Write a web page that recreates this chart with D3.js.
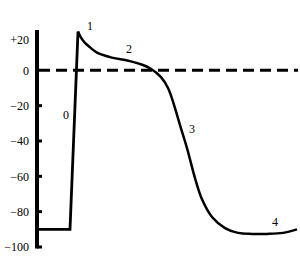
<!DOCTYPE html>
<html><head><meta charset="utf-8">
<script src="https://cdn.jsdelivr.net/npm/d3@7"></script>
<style>body{margin:0;background:#fff}svg{display:block}</style>
</head><body>
<script>
// y ticks
const yTicks = [20, 0, -20, -40, -60, -80, -100];
const yTickLabels = ["+20", "0", "\u221220", "\u221240", "\u221260", "\u221280", "\u2212100"];
// resting + upstroke (phase 4 -> 0)
const upT = [0, 33, 41];
const upV = [-90, -90, 22];
// repolarization (phase 1,2,3,4)
const repT = [41, 44, 48, 53, 60, 73, 93, 106, 113, 124, 131, 137, 143, 150, 158, 165, 175, 188, 201, 215, 230, 246, 260];
const repV = [22, 18.5, 15.5, 13, 10, 7.5, 5.2, 3, 1.2, -3.8, -10, -19.5, -31, -44, -61, -73, -83, -89.3, -92, -92.6, -92.6, -92, -90];
// phase labels
const phaseNames = ["0", "1", "2", "3", "4"];
const phaseT = [29, 53, 92, 155, 238];
const phaseV = [-25, 25, 12, -33, -86];

const W = 300, H = 275;
const svg = d3.select("body").append("svg").attr("width", W).attr("height", H);
const x = d3.scaleLinear().domain([0, 260]).range([37, 297]);
const y = d3.scaleLinear().domain([-100, 20]).range([247, 35]);

// axis line
svg.append("line").attr("x1", 37).attr("x2", 37)
  .attr("y1", 30).attr("y2", y(-100) + 1.5)
  .attr("stroke", "#000").attr("stroke-width", 4);

// ticks
const tickVals = yTicks.filter(v => v < 0);
svg.selectAll(".tk").data(tickVals).enter().append("line")
  .attr("x1", 37).attr("x2", 42)
  .attr("y1", d => y(d)).attr("y2", d => y(d))
  .attr("stroke", "#000").attr("stroke-width", 3);

// tick labels
svg.selectAll(".tl").data(yTicks).enter().append("text")
  .attr("x", 29).attr("y", d => y(d) + (d === 20 ? 5 : 0))
  .attr("dy", "0.35em").attr("text-anchor", "end")
  .attr("font-family", "Liberation Serif, serif").attr("font-size", 12)
  .text((d, i) => yTickLabels[i]);

// dashed zero line
svg.append("line").attr("x1", 39).attr("x2", 298)
  .attr("y1", y(0)).attr("y2", y(0))
  .attr("stroke", "#000").attr("stroke-width", 3)
  .attr("stroke-dasharray", "11,6");

// upstroke
const up = upT.map((t, i) => [t, upV[i]]);
svg.append("path").datum(up)
  .attr("d", d3.line().x(d => x(d[0])).y(d => y(d[1])))
  .attr("fill", "none").attr("stroke", "#000").attr("stroke-width", 2.8)
  .attr("stroke-linejoin", "miter");

// repolarization
const rep = repT.map((t, i) => [t, repV[i]]);
svg.append("path").datum(rep)
  .attr("d", d3.line().x(d => x(d[0])).y(d => y(d[1])).curve(d3.curveCatmullRom.alpha(0.5)))
  .attr("fill", "none").attr("stroke", "#000").attr("stroke-width", 2.5);

// phase labels
svg.selectAll(".pl").data(phaseNames).enter().append("text")
  .attr("x", (d, i) => x(phaseT[i])).attr("y", (d, i) => y(phaseV[i]))
  .attr("dy", "0.35em").attr("text-anchor", "middle")
  .attr("font-family", "Liberation Serif, serif").attr("font-size", 12)
  .text(d => d);
</script>
</body></html>
